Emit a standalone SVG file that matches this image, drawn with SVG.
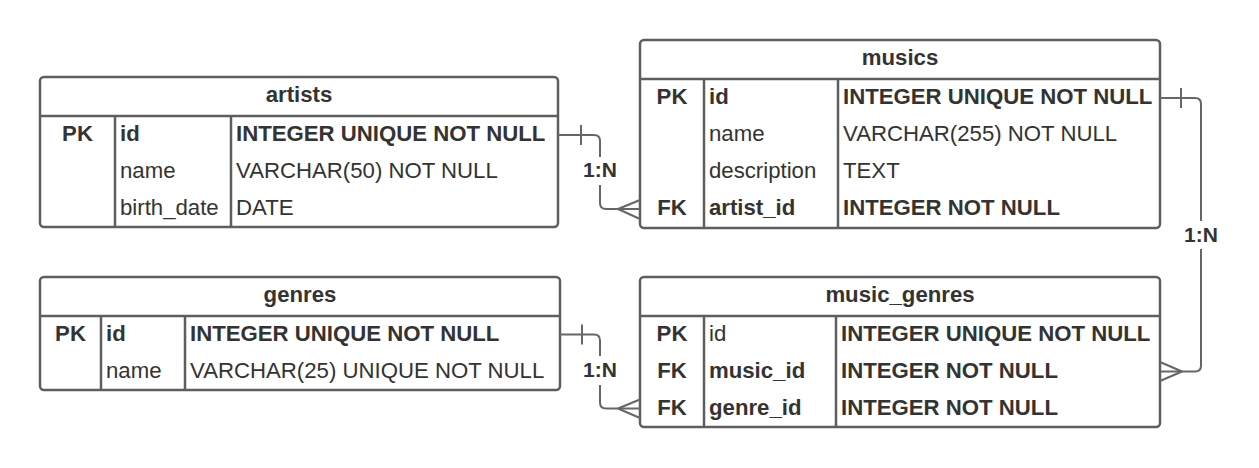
<svg xmlns="http://www.w3.org/2000/svg" width="1259" height="468" viewBox="0 0 1259 468">
<style>
text{font-family:"Liberation Sans",Arial,sans-serif;font-size:22.2px;fill:#333333}
.b{font-weight:bold}
.c{text-anchor:middle}
.box{fill:#ffffff;stroke:#5e5e5e;stroke-width:2.5}
.ln{stroke:#5e5e5e;stroke-width:2.5;fill:none}
.cn{stroke:#666666;stroke-width:2;fill:none}
.lbl{font-weight:bold;text-anchor:middle;font-size:21px}
</style>
<rect width="1259" height="468" fill="#ffffff"/>

<g id="artists">
<rect class="box" x="40" y="77" width="518" height="150" rx="4"/>
<path class="ln" d="M40,116 H558 M115,116 V227 M231,116 V227"/>
<text class="b c" x="299" y="101.5">artists</text>
<text class="b c" x="77.5" y="140.5">PK</text>
<text class="b" x="120" y="140.5">id</text>
<text class="b" x="236" y="140.5">INTEGER UNIQUE NOT NULL</text>
<text x="120" y="177.5">name</text>
<text x="236" y="177.5">VARCHAR(50) NOT NULL</text>
<text x="120" y="214.5">birth_date</text>
<text x="236" y="214.5">DATE</text>
</g>

<g id="musics">
<rect class="box" x="640" y="40" width="520" height="188" rx="4"/>
<path class="ln" d="M640,79 H1160 M704,79 V228 M838,79 V228"/>
<text class="b c" x="900" y="64.5">musics</text>
<text class="b c" x="672" y="103.5">PK</text>
<text class="b" x="709" y="103.5">id</text>
<text class="b" x="843" y="103.5">INTEGER UNIQUE NOT NULL</text>
<text x="709" y="140.5">name</text>
<text x="843" y="140.5">VARCHAR(255) NOT NULL</text>
<text x="709" y="177.5">description</text>
<text x="843" y="177.5">TEXT</text>
<text class="b c" x="672" y="214.5">FK</text>
<text class="b" x="709" y="214.5">artist_id</text>
<text class="b" x="843" y="214.5">INTEGER NOT NULL</text>
</g>

<g id="genres">
<rect class="box" x="40" y="277" width="520" height="113" rx="4"/>
<path class="ln" d="M40,316 H560 M101,316 V390 M185,316 V390"/>
<text class="b c" x="300" y="301.5">genres</text>
<text class="b c" x="70.5" y="340.5">PK</text>
<text class="b" x="106" y="340.5">id</text>
<text class="b" x="190" y="340.5">INTEGER UNIQUE NOT NULL</text>
<text x="106" y="377.5">name</text>
<text x="190" y="377.5">VARCHAR(25) UNIQUE NOT NULL</text>
</g>

<g id="music_genres">
<rect class="box" x="640" y="277" width="520" height="150" rx="4"/>
<path class="ln" d="M640,316 H1160 M704,316 V427 M836,316 V427"/>
<text class="b c" x="900" y="301.5">music_genres</text>
<text class="b c" x="672" y="340.5">PK</text>
<text x="709" y="340.5">id</text>
<text class="b" x="841" y="340.5">INTEGER UNIQUE NOT NULL</text>
<text class="b c" x="672" y="377.5">FK</text>
<text class="b" x="709" y="377.5">music_id</text>
<text class="b" x="841" y="377.5">INTEGER NOT NULL</text>
<text class="b c" x="672" y="414.5">FK</text>
<text class="b" x="709" y="414.5">genre_id</text>
<text class="b" x="841" y="414.5">INTEGER NOT NULL</text>
</g>

<g id="connectors">
<path class="cn" d="M558,135 H594 Q600,135 600,141 V157 M600,185 V203 Q600,209 606,209 H640"/>
<path class="cn" d="M581,125 V145 M618,209 L640,200 M618,209 L640,219"/>
<text class="lbl" x="600" y="177">1:N</text>

<path class="cn" d="M560,334.5 H594 Q600,334.5 600,340.5 V356 M600,385 V402.5 Q600,408.5 606,408.5 H640"/>
<path class="cn" d="M582,324.5 V344.5 M618,408.5 L640,399.5 M618,408.5 L640,418"/>
<text class="lbl" x="600" y="377">1:N</text>

<path class="cn" d="M1160,98 H1195 Q1201,98 1201,104 V221 M1201,249 V365.5 Q1201,371.5 1195,371.5 H1160"/>
<path class="cn" d="M1181,88 V108 M1182,371.5 L1160,362 M1182,371.5 L1160,381"/>
<text class="lbl" x="1201" y="242">1:N</text>
</g>
</svg>
